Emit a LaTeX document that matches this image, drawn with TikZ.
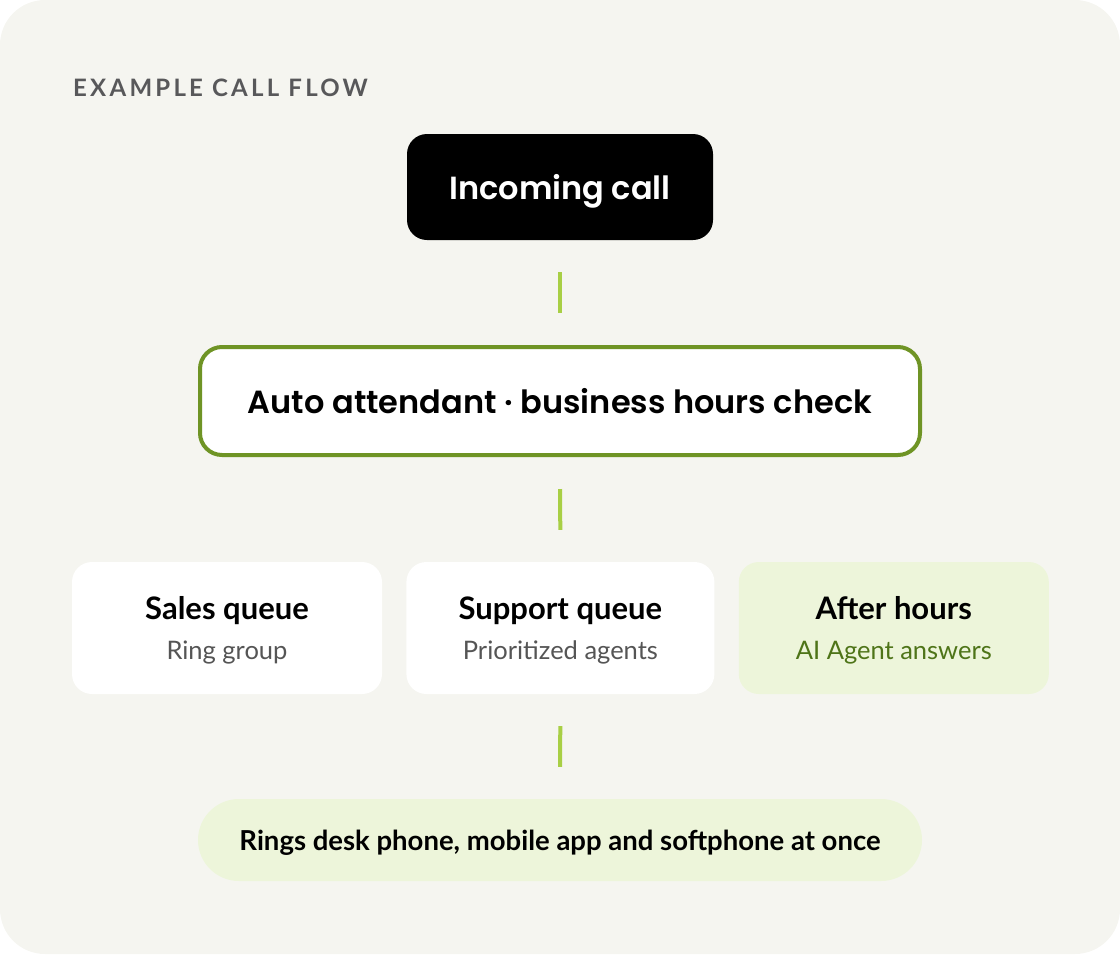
\documentclass[tikz,border=0pt]{standalone}
\usepackage{fontspec}
\setmainfont{Lato}
\newfontfamily\poppins{Poppins SemiBold}
\usetikzlibrary{positioning}

\definecolor{panelbg}{HTML}{F5F5F0}
\definecolor{titlegray}{HTML}{58585A}
\definecolor{subgray}{HTML}{555555}
\definecolor{linkgreen}{HTML}{A8CF45}
\definecolor{framegreen}{HTML}{6F9425}
\definecolor{softgreen}{HTML}{EDF5DA}
\definecolor{agentgreen}{HTML}{4E7418}

\begin{document}
\begin{tikzpicture}[
  x=1pt, y=-1pt,
  every node/.style = {align=center, inner sep=0pt, text depth=0pt},
  heading/.style = {font=\poppins\fontsize{32}{38}\selectfont},
  card/.style = {rounded corners=20pt, minimum width=310pt, minimum height=132pt,
    fill=white, font=\fontsize{25.5}{40}\selectfont},
  link/.style = {draw=linkgreen, line width=4pt, shorten <=32pt, shorten >=32pt}
  ]
  \useasboundingbox (0,0) rectangle (1120,954);
  \fill[panelbg, rounded corners=45pt] (0,0) rectangle (1120,954);

  \node[anchor=base west, text=titlegray,
    font=\bfseries\fontsize{24}{28}\selectfont\addfontfeatures{LetterSpace=13.5}]
    (title) at (73,96) {EXAMPLE CALL FLOW};

  \node[heading, fill=black, text=white, rounded corners=20pt,
    minimum width=306pt, minimum height=106pt] (incoming) at (560,187) {Incoming call};
  \node[heading, fill=white, draw=framegreen, line width=4pt, rounded corners=22pt,
    minimum width=720pt, minimum height=108pt] (auto) at (560,401)
    {Auto attendant · business hours check};

  % the three routes
  \node[card] (sales) at (227,628)
    {{\bfseries\fontsize{31}{40}\selectfont Sales queue}\\\textcolor{subgray}{Ring group}};
  \node[card, minimum width=308pt, right=24pt of sales] (support)
    {{\bfseries\fontsize{31}{40}\selectfont Support queue}\\\textcolor{subgray}{Prioritized agents}};
  \node[card, fill=softgreen, right=24pt of support] (after)
    {{\bfseries\fontsize{31}{40}\selectfont After hours}\\\textcolor{agentgreen}{AI Agent answers}};

  \node[fill=softgreen, rounded corners=41pt, minimum width=724pt, minimum height=82pt,
    font=\bfseries\fontsize{27.5}{32}\selectfont] (rings) at (560,840)
    {Rings desk phone, mobile app and softphone at once};

  \draw[link] (incoming.south) -- (auto.north);
  \draw[link] (auto.south) -- (support.north);
  \draw[link] (support.south) -- (rings.north);
\end{tikzpicture}
\end{document}
